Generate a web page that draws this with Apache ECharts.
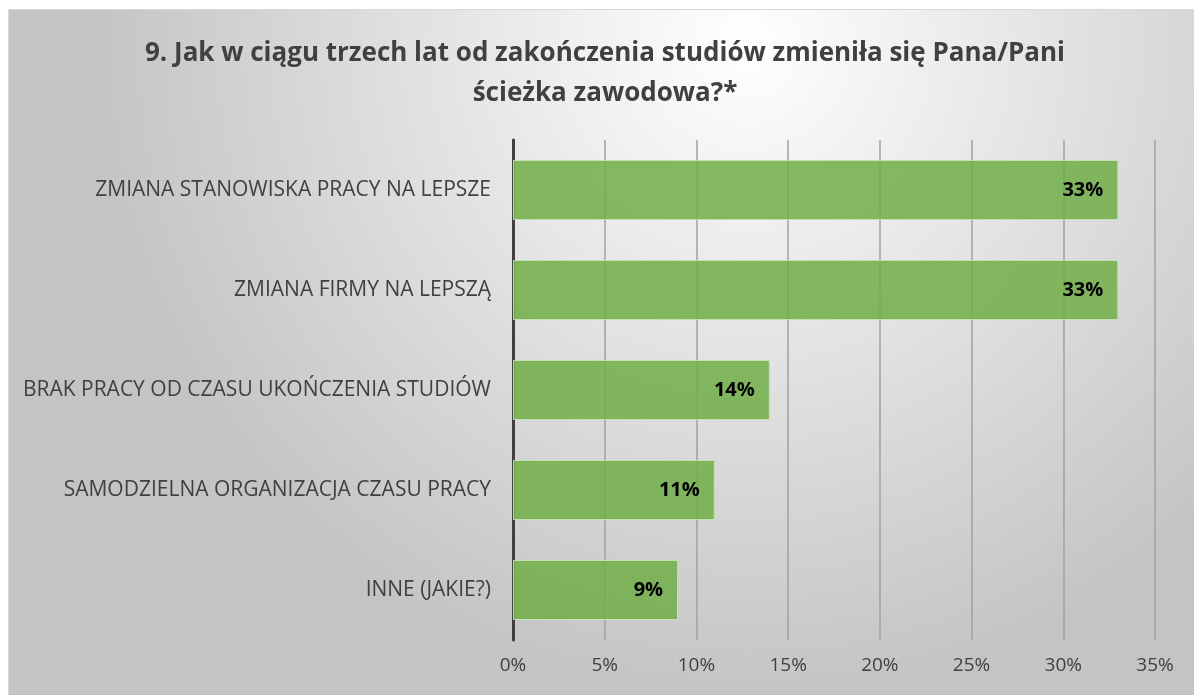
<!DOCTYPE html>
<html><head><meta charset="utf-8">
<script src="https://cdn.jsdelivr.net/npm/echarts@6/dist/echarts.min.js"></script>
<style>html,body{margin:0;padding:0;background:#fff}#c{width:1194px;height:695px}</style>
</head><body><div id="c"></div>
<script>
const titleText = '9. Jak w ciągu trzech lat od zakończenia studiów zmieniła się Pana/Pani\nścieżka zawodowa?*';
const categories = ['ZMIANA STANOWISKA PRACY NA LEPSZE','ZMIANA FIRMY NA LEPSZĄ','BRAK PRACY OD CZASU UKOŃCZENIA STUDIÓW','SAMODZIELNA ORGANIZACJA CZASU PRACY','INNE (JAKIE?)'];
const values = [33, 33, 14, 11, 9];
const xTicks = [0, 5, 10, 15, 20, 25, 30, 35];

const chart = echarts.init(document.getElementById('c'), null, {renderer:'canvas'});
const font = '"Open Sans", "Liberation Sans", sans-serif';
chart.setOption({
  animation: false,
  graphic: [{
    type: 'rect', z: -10, silent: true,
    shape: {x: 8.5, y: 9.5, width: 1190, height: 690},
    style: {
      fill: new echarts.graphic.RadialGradient(0.62, 0.05, 0.95, [
        {offset: 0, color: '#ffffff'},
        {offset: 1, color: '#c4c4c4'}
      ]),
      stroke: '#d9d9d9', lineWidth: 1
    }
  }],
  title: {
    text: titleText, left: 600, textAlign: 'center', top: 29,
    textStyle: {fontFamily: font, fontWeight: 'bold', fontSize: 26, color: '#404040', lineHeight: 40}
  },
  grid: {left: 513, right: 39, top: 140, bottom: 55, containLabel: false},
  xAxis: {
    type: 'value', min: 0, max: 35, interval: 5,
    axisLine: {show: false}, axisTick: {show: false},
    splitLine: {show: true, lineStyle: {color: '#a0a0a0', width: 2, opacity: 0.75}},
    axisLabel: {fontFamily: font, fontSize: 19, color: '#404040', margin: 16,
      formatter: v => xTicks.includes(v) ? v + '%' : ''}
  },
  yAxis: {
    type: 'category', data: categories, inverse: true,
    axisLine: {show: true, lineStyle: {color: '#404040', width: 3}},
    axisTick: {show: false},
    axisLabel: {fontFamily: font, fontSize: 21, color: '#404040', margin: 22}
  },
  series: [{
    type: 'bar', data: values, barWidth: 60,
    itemStyle: {color: 'rgba(112,173,71,0.85)', borderColor: '#c6e0b4', borderWidth: 1},
    label: {show: true, position: 'insideRight', distance: 15, formatter: '{c}%',
      fontFamily: font, fontWeight: 'bold', fontSize: 20, color: '#000'}
  }]
});
</script></body></html>
